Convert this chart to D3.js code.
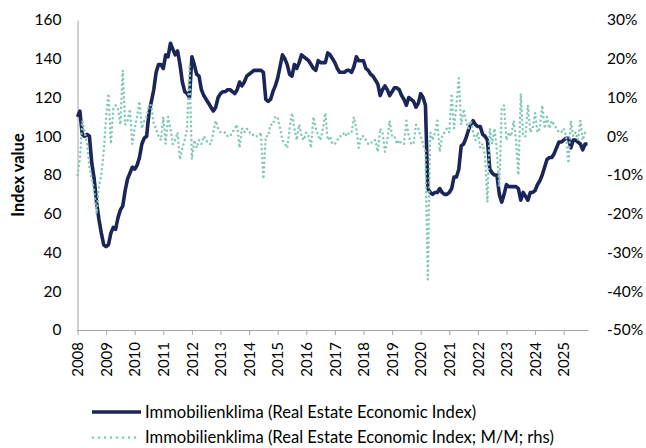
<!DOCTYPE html>
<html>
<head>
<meta charset="utf-8">
<script src="https://cdn.jsdelivr.net/npm/d3@7"></script>
<style>
  html, body { margin: 0; padding: 0; background: #fff; }
  svg { display: block; }
  text { font-family: Lato, "Open Sans", sans-serif; fill: #000; }
</style>
</head>
<body>
<svg id="chart" width="646" height="448"></svg>
<script>
// ---- data (monthly, Jan 2008 .. Nov 2025) ----
const startYear = 2008;
const indexValues = [
  110,113,101,100,101,100,86,78,66,57,50,44,
  43,44,50,53,52,58,62,64,72,78,81,84,
  83,85,89,96,99,100,112,118,124,133,137,137,
  135,142,141,148,145,142,144,137,128,123,122,120,
  141,137,132,131,124,121,119,117,115,113,115,120,
  122,123,123,124,124,123,122,124,128,126,128,131,
  132,133,134,134,134,134,133,119,118,119,123,126,
  130,136,142,140,137,132,131,137,135,138,142,141,
  140,139,137,135,134,139,138,138,138,143,142,140,
  138,135,133,133,133,134,134,133,136,141,139,139,
  139,135,134,132,131,129,127,121,124,126,124,121,
  123,125,125,124,121,119,116,120,119,118,115,117,
  122,120,116,73,71,70,71,71,73,71,70,70,
  71,73,79,79,83,95,96,99,103,106,108,106,
  105,105,101,100,98,83,81,80,80,70,66,70,
  75,74,74,74,74,73,67,71,69,67,71,71,
  72,75,77,80,84,88,89,89,91,94,97,97,
  98,99,99,94,98,98,97,96,93,96,96
];
const momValues = [
  -10,-6,4,1,-2,-8,-11,-14,-20,-13,-10,-4,
  5,11,-2,7,8,7,3,17,3,4,7,-2,
  2,5,9,2,4,5,8,8,3,2,0,-1,
  5,-2,5,2,-2,-1,1,-6,-3,-1,2,18,
  -6,-1,-3,-1,-2,0,-1,-2,-2,1,4,2,
  1,1,1,0,0,1,2,3,-3,2,1,2,
  1,1,0,0,0,1,-11,0,0,3,3,5,
  5,2,-1,-2,-3,2,6,2,-1,3,0,-1,
  1,0,-3,5,2,0,-1,2,6,-1,0,-2,
  -2,-1,0,0,1,0,1,1,5,2,-3,0,
  0,-1,-2,-2,-1,-1,-4,2,1,-4,-1,4,
  0,0,-2,-1,-2,-2,4,0,-2,-2,3,2,
  0,-2,-4,-37,1,-1,1,4,-4,0,1,2,
  1,11,2,8,15,3,7,4,2,4,1,-1,
  1,-3,-2,-5,-17,2,-2,2,-4,-13,7,8,
  -1,1,0,4,-1,-10,11,0,0,8,1,2,
  6,1,2,8,2,5,2,4,3,2,1,1,
  2,0,-7,4,0,1,-1,4,-1,1,1
];
const yearTicks = d3.range(2008, 2026);
const leftTicks = [0,20,40,60,80,100,120,140,160];
const rightTicks = [-50,-40,-30,-20,-10,0,10,20,30];
const seriesNames = [
  "Immobilienklima (Real Estate Economic Index)",
  "Immobilienklima (Real Estate Economic Index; M/M; rhs)"
];
const axisTitle = "Index value";

// ---- build ----
const navy = "#1b2558";
const teal = "#82c8b7";
const axisColor = "#a6a6a6";

const svg = d3.select("#chart");
const t = i => startYear + i / 12;
const lastT = t(indexValues.length - 1);

const x = d3.scaleLinear().domain([startYear, lastT]).range([77.5, 587.5]);
const yL = d3.scaleLinear().domain([0, 160]).range([330, 20]);
const yR = d3.scaleLinear().domain([-50, 30]).range([330, 20]);

// left axis
const gL = svg.append("g").attr("transform", "translate(77.5,0)")
  .call(d3.axisLeft(yL).tickValues(leftTicks).tickSize(0).tickPadding(16));
gL.select(".domain").attr("stroke", axisColor);
gL.selectAll("text").style("font-size", "15.5px").attr("font-family", "Lato, sans-serif");

// right axis (labels only)
const gR = svg.append("g").attr("transform", "translate(588,0)")
  .call(d3.axisRight(yR).tickValues(rightTicks).tickSize(0).tickPadding(19)
    .tickFormat(d => d + "%"));
gR.select(".domain").remove();
gR.selectAll("text").style("font-size", "15.5px").attr("font-family", "Lato, sans-serif");

// bottom axis
const gB = svg.append("g").attr("transform", "translate(0,330)")
  .call(d3.axisBottom(x).tickValues(yearTicks).tickSize(5).tickFormat(d3.format("d")));
gB.select(".domain").attr("stroke", axisColor).attr("d", `M${x(startYear)},0.5H${x(lastT)+1}`);
gB.selectAll(".tick line").attr("stroke", axisColor);
gB.selectAll("text")
  .style("font-size", "15px")
  .attr("font-family", "Lato, sans-serif")
  .attr("transform", "rotate(-90)")
  .attr("text-anchor", "end")
  .attr("x", -12)
  .attr("y", 0)
  .attr("dy", "0.35em");

// axis title
svg.append("text")
  .attr("transform", "translate(24,175) rotate(-90)")
  .attr("text-anchor", "middle")
  .style("font-size", "16.5px")
  .style("font-weight", "bold")
  .text(axisTitle);

// main line
const lineL = d3.line().x((d, i) => x(t(i))).y(d => yL(d)).curve(d3.curveLinear);
svg.append("path").datum(indexValues)
  .attr("fill", "none").attr("stroke", navy).attr("stroke-width", 3.6)
  .attr("stroke-linejoin", "round").attr("d", lineL);

// M/M line (secondary)
const lineR = d3.line().x((d, i) => x(t(i))).y(d => yR(d));
svg.append("path").datum(momValues)
  .attr("fill", "none").attr("stroke", teal).attr("stroke-width", 2.5)
  .attr("stroke-linecap", "round")
  .attr("stroke-dasharray", "0.01,4.6")
  .attr("d", lineR);

// legend
const lg = svg.append("g");
lg.append("line").attr("x1", 92).attr("x2", 141).attr("y1", 412).attr("y2", 412)
  .attr("stroke", navy).attr("stroke-width", 3.6);
lg.append("text").attr("x", 145).attr("y", 412).attr("dy", "0.35em")
  .style("font-size", "16.6px").text(seriesNames[0]);
lg.append("line").attr("x1", 93).attr("x2", 141).attr("y1", 437.5).attr("y2", 437.5)
  .attr("stroke", teal).attr("stroke-width", 2.5).attr("stroke-linecap", "round")
  .attr("stroke-dasharray", "0.01,6");
lg.append("text").attr("x", 145).attr("y", 437.5).attr("dy", "0.35em")
  .style("font-size", "16.6px").text(seriesNames[1]);
</script>
</body>
</html>
